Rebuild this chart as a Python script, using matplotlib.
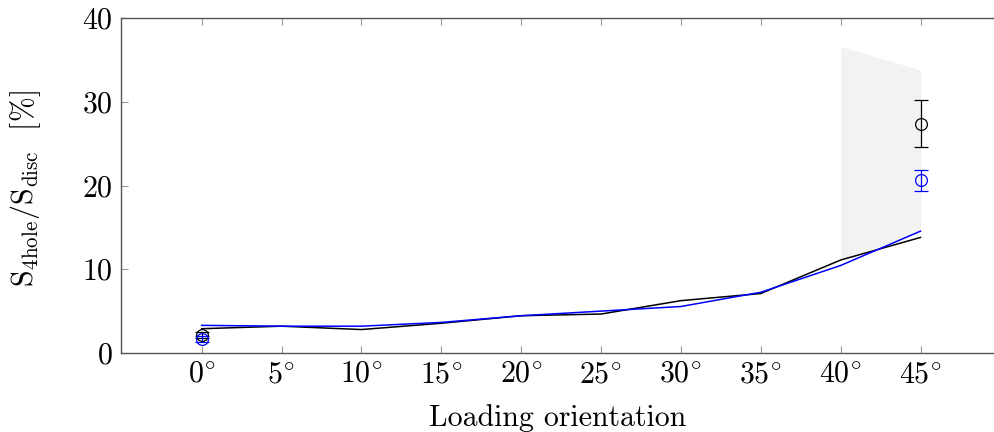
import matplotlib
matplotlib.use("Agg")
import matplotlib.pyplot as plt

plt.rcParams["font.family"] = "serif"
plt.rcParams["font.serif"] = ["cmr10"]
plt.rcParams["mathtext.fontset"] = "cm"
plt.rcParams["axes.unicode_minus"] = False
plt.rcParams["axes.formatter.use_mathtext"] = True

# Simulated ratio along loading orientation
angles = [0, 5, 10, 15, 20, 25, 30, 35, 40, 45]
sim_black = [2.9, 3.2, 2.8, 3.55, 4.45, 4.65, 6.25, 7.1, 11.1, 13.8]
sim_blue = [3.3, 3.2, 3.2, 3.65, 4.45, 5.0, 5.55, 7.25, 10.45, 14.55]

# Shaded band between 40 and 45 degrees
band_x = [40, 45]
band_low = [11.1, 14.55]
band_high = [36.6, 33.8]

# Measured points with error bars
meas_x = [0, 45]
meas_black = [2.15, 27.4]
meas_black_err = [0.35, 2.8]
meas_blue = [1.7, 20.6]
meas_blue_err = [0.35, 1.3]

xtick_labels = [r"$%d^{\!\circ}$" % a for a in angles]

fig = plt.figure(figsize=(9.94, 4.32), dpi=100)
ax = fig.add_axes([0.1217, 0.1829, 0.8783, 0.7754])

ax.fill_between(band_x, band_low, band_high, color="#f2f2f2", lw=0, zorder=1)
ax.plot(angles, sim_black, color="black", lw=1.1, zorder=3)
ax.plot(angles, sim_blue, color="blue", lw=1.1, zorder=3)

ax.errorbar(meas_x, meas_black, yerr=meas_black_err, fmt="o", mfc="none",
            mec="black", ecolor="black", color="black", ms=8.5, mew=0.9,
            elinewidth=0.9, capsize=5, capthick=0.9, zorder=4)
ax.errorbar(meas_x, meas_blue, yerr=meas_blue_err, fmt="o", mfc="none",
            mec="blue", ecolor="blue", color="blue", ms=8.5, mew=0.9,
            elinewidth=0.9, capsize=5, capthick=0.9, zorder=4)

ax.set_xlim(-5.05, 49.6)
ax.set_ylim(0, 40)
ax.set_xticks(angles)
ax.set_xticklabels(xtick_labels)
ax.set_yticks([0, 10, 20, 30, 40])

for side in ["left", "bottom", "top", "right"]:
    ax.spines[side].set_color("#555555")
    ax.spines[side].set_linewidth(1.0)
ax.spines["right"].set_visible(False)
ax.tick_params(direction="in", top=True, right=False, length=5, width=0.8,
               color="#999999", labelsize=21.5, pad=6)

ax.set_xlabel("Loading orientation", fontsize=21.5)
ax.set_ylabel(r"$\mathrm{S}_{\mathrm{4hole}}/\mathrm{S}_{\mathrm{disc}}$  [%]",
              fontsize=21.5)
ax.xaxis.set_label_coords(0.5, -0.152)
ax.yaxis.set_label_coords(-0.089, 0.49)

fig.savefig("out.png", dpi=100)
